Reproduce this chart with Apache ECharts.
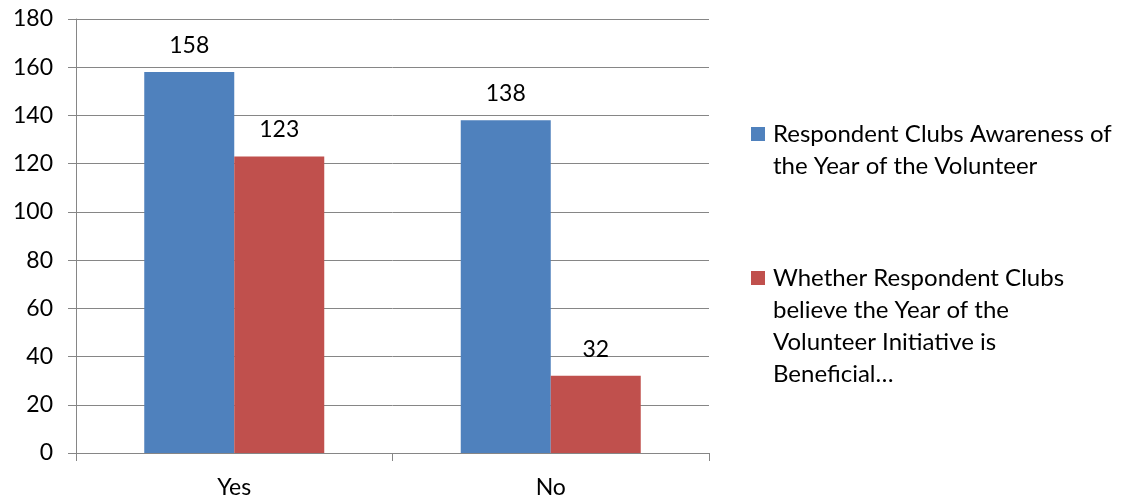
<!DOCTYPE html>
<html>
<head>
<meta charset="utf-8">
<script src="https://cdn.jsdelivr.net/npm/echarts@6/dist/echarts.min.js"></script>
<style>html,body{margin:0;padding:0;background:#fff}#c{width:1126px;height:499px}</style>
</head>
<body>
<div id="c"></div>
<script>
const categories = ['Yes', 'No'];
const seriesNames = ['Respondent Clubs Awareness of the Year of the Volunteer', 'Whether Respondent Clubs believe the Year of the Volunteer Initiative is Beneficial…'];
const legendLines = [
  ['Respondent Clubs Awareness of', 'the Year of the Volunteer'],
  ['Whether Respondent Clubs', 'believe the Year of the', 'Volunteer Initiative is', 'Beneficial…']
];
const awareness = [158, 138];
const beneficial = [123, 32];
const yTicks = { min: 0, max: 180, interval: 20 };
const colors = ['#4F81BD', '#C0504D'];

const FONT = 'Lato';
const chart = echarts.init(document.getElementById('c'), null, { renderer: 'canvas' });

const legendText = {};
seriesNames.forEach((n, i) => {
  const sq = i === 0 ? 'sqb' : 'sqr';
  legendText[n] = legendLines[i].map((l, j) => (j === 0 ? '{' + sq + '| }' : '{ind| }') + '{t|' + l + '}').join('\n');
});

chart.setOption({
  animation: false,
  color: colors,
  grid: { left: 76, right: 417, top: 19, bottom: 46, containLabel: false },
  legend: {
    orient: 'vertical',
    left: 741,
    top: 113,
    itemGap: 80,
    itemWidth: 0,
    itemHeight: 0,
    icon: 'none',
    selectedMode: false,
    data: seriesNames,
    formatter: n => legendText[n],
    textStyle: {
      fontFamily: FONT, fontSize: 24, color: '#000', lineHeight: 32,
      rich: {
        sqb: { width: 14, height: 14, backgroundColor: colors[0], fontSize: 1, padding: 0 },
        sqr: { width: 14, height: 14, backgroundColor: colors[1], fontSize: 1, padding: 0 },
        ind: { width: 14, fontSize: 1 },
        t: { fontFamily: FONT, fontSize: 24, color: '#000', lineHeight: 32, padding: [0, 0, 0, 8] }
      }
    }
  },
  xAxis: {
    type: 'category',
    data: categories,
    axisLine: { show: true, lineStyle: { color: '#868686', width: 1 } },
    axisTick: { show: true, length: 8, alignWithLabel: false, lineStyle: { color: '#868686' } },
    axisLabel: { fontFamily: FONT, fontSize: 23, color: '#000', margin: 23 },
    splitLine: { show: false }
  },
  yAxis: {
    type: 'value',
    min: yTicks.min, max: yTicks.max, interval: yTicks.interval,
    axisLine: { show: true, lineStyle: { color: '#868686', width: 1 } },
    axisTick: { show: true, length: 8, lineStyle: { color: '#868686' } },
    axisLabel: { fontFamily: FONT, fontSize: 23, color: '#000', margin: 23 },
    splitLine: { show: true, lineStyle: { color: '#868686', width: 1 } }
  },
  series: [
    {
      name: seriesNames[0], type: 'bar', data: awareness,
      barWidth: 90, barGap: '0%',
      itemStyle: { color: colors[0] },
      label: { show: true, position: 'top', distance: 15, fontFamily: FONT, fontSize: 23, color: '#000' }
    },
    {
      name: seriesNames[1], type: 'bar', data: beneficial,
      barWidth: 90, barGap: '0%',
      itemStyle: { color: colors[1] },
      label: { show: true, position: 'top', distance: 15, fontFamily: FONT, fontSize: 23, color: '#000' }
    }
  ]
});
</script>
</body>
</html>
